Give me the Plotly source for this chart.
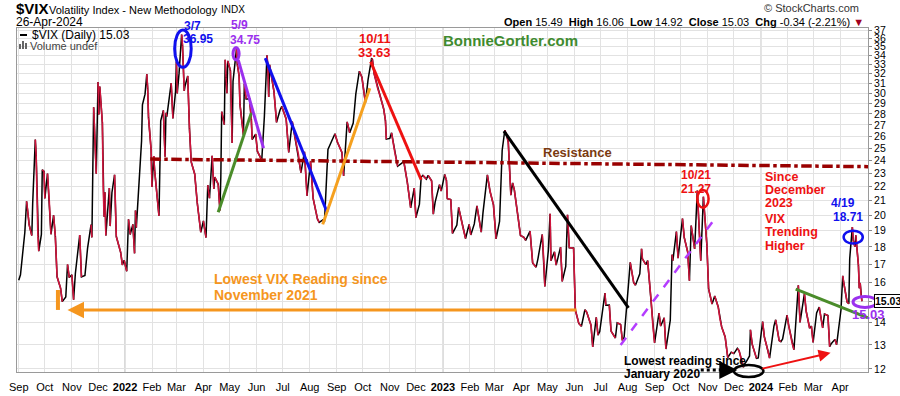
import math
import pandas as pd
import plotly.graph_objects as go

# ---------------- data ----------------
dates = [
"2021-09-01","2021-09-03","2021-09-08","2021-09-10","2021-09-13","2021-09-16","2021-09-17","2021-09-20","2021-09-21","2021-09-23",
"2021-09-24","2021-09-27","2021-09-28","2021-09-30","2021-10-01","2021-10-04","2021-10-06","2021-10-08","2021-10-11","2021-10-13",
"2021-10-15","2021-10-19","2021-10-21","2021-10-25","2021-10-27","2021-10-29","2021-11-01","2021-11-03","2021-11-05","2021-11-10",
"2021-11-12","2021-11-16","2021-11-19","2021-11-23","2021-11-24","2021-11-26","2021-11-29","2021-11-30","2021-12-01","2021-12-02",
"2021-12-03","2021-12-06","2021-12-07","2021-12-08","2021-12-09","2021-12-10","2021-12-14","2021-12-15","2021-12-17","2021-12-20",
"2021-12-22","2021-12-27","2021-12-29","2021-12-31","2022-01-03","2022-01-05","2022-01-07","2022-01-10","2022-01-12","2022-01-13",
"2022-01-14","2022-01-18","2022-01-20","2022-01-21","2022-01-24","2022-01-26","2022-01-27","2022-01-28","2022-01-31","2022-02-01",
"2022-02-03","2022-02-04","2022-02-09","2022-02-11","2022-02-14","2022-02-16","2022-02-17","2022-02-18","2022-02-23","2022-02-25",
"2022-02-28","2022-03-01","2022-03-02","2022-03-04","2022-03-07","2022-03-08","2022-03-10","2022-03-11","2022-03-14","2022-03-16",
"2022-03-18","2022-03-22","2022-03-25","2022-03-29","2022-04-01","2022-04-04","2022-04-06","2022-04-08","2022-04-11","2022-04-13",
"2022-04-14","2022-04-18","2022-04-20","2022-04-21","2022-04-22","2022-04-25","2022-04-26","2022-04-27","2022-04-28","2022-04-29",
"2022-05-02","2022-05-04","2022-05-05","2022-05-09","2022-05-10","2022-05-12","2022-05-13","2022-05-17","2022-05-18","2022-05-20",
"2022-05-24","2022-05-26","2022-05-27","2022-05-31","2022-06-02","2022-06-07","2022-06-09","2022-06-10","2022-06-13","2022-06-14",
"2022-06-15","2022-06-16","2022-06-21","2022-06-24","2022-06-28","2022-06-30","2022-07-05","2022-07-08","2022-07-12","2022-07-14",
"2022-07-19","2022-07-22","2022-07-26","2022-07-29","2022-08-02","2022-08-05","2022-08-10","2022-08-12","2022-08-16","2022-08-18",
"2022-08-22","2022-08-26","2022-08-30","2022-09-02","2022-09-07","2022-09-09","2022-09-13","2022-09-16","2022-09-20","2022-09-23",
"2022-09-27","2022-09-29","2022-09-30","2022-10-04","2022-10-06","2022-10-07","2022-10-11","2022-10-12","2022-10-14","2022-10-18",
"2022-10-21","2022-10-25","2022-10-27","2022-10-28","2022-11-01","2022-11-03","2022-11-07","2022-11-10","2022-11-14","2022-11-17",
"2022-11-21","2022-11-25","2022-11-29","2022-12-01","2022-12-05","2022-12-07","2022-12-09","2022-12-13","2022-12-15","2022-12-19",
"2022-12-21","2022-12-23","2022-12-28","2022-12-30","2023-01-03","2023-01-05","2023-01-06","2023-01-10","2023-01-12","2023-01-17",
"2023-01-19","2023-01-24","2023-01-27","2023-01-31","2023-02-02","2023-02-06","2023-02-09","2023-02-14","2023-02-16","2023-02-21",
"2023-02-24","2023-02-28","2023-03-03","2023-03-07","2023-03-09","2023-03-10","2023-03-13","2023-03-15","2023-03-17","2023-03-20",
"2023-03-22","2023-03-24","2023-03-28","2023-03-31","2023-04-04","2023-04-06","2023-04-11","2023-04-14","2023-04-18","2023-04-20",
"2023-04-25","2023-04-27","2023-04-28","2023-05-02","2023-05-04","2023-05-05","2023-05-09","2023-05-11","2023-05-16","2023-05-18",
"2023-05-22","2023-05-24","2023-05-26","2023-05-31","2023-06-02","2023-06-06","2023-06-09","2023-06-13","2023-06-15","2023-06-20",
"2023-06-22","2023-06-26","2023-06-28","2023-06-30","2023-07-06","2023-07-07","2023-07-11","2023-07-13","2023-07-18","2023-07-20",
"2023-07-24","2023-07-26","2023-07-28","2023-08-02","2023-08-04","2023-08-08","2023-08-10","2023-08-15","2023-08-17","2023-08-18",
"2023-08-22","2023-08-24","2023-08-28","2023-08-30","2023-09-01","2023-09-06","2023-09-08","2023-09-12","2023-09-14","2023-09-19",
"2023-09-21","2023-09-22","2023-09-26","2023-09-28","2023-10-03","2023-10-05","2023-10-09","2023-10-11","2023-10-13","2023-10-17",
"2023-10-19","2023-10-20","2023-10-24","2023-10-26","2023-10-27","2023-10-31","2023-11-02","2023-11-06","2023-11-09","2023-11-13",
"2023-11-15","2023-11-17","2023-11-21","2023-11-24","2023-11-28","2023-12-01","2023-12-05","2023-12-07","2023-12-12","2023-12-13",
"2023-12-15","2023-12-19","2023-12-20","2023-12-22","2023-12-27","2023-12-29","2024-01-03","2024-01-05","2024-01-09","2024-01-11",
"2024-01-16","2024-01-18","2024-01-22","2024-01-24","2024-01-26","2024-01-31","2024-02-02","2024-02-06","2024-02-08","2024-02-13",
"2024-02-15","2024-02-20","2024-02-22","2024-02-26","2024-02-28","2024-03-01","2024-03-05","2024-03-08","2024-03-12","2024-03-14",
"2024-03-18","2024-03-20","2024-03-22","2024-03-26","2024-03-28","2024-04-02","2024-04-04","2024-04-05","2024-04-09","2024-04-11",
"2024-04-12","2024-04-15","2024-04-16","2024-04-18","2024-04-19","2024-04-22","2024-04-23","2024-04-24","2024-04-25","2024-04-26",
]
vix = [
16.11,16.41,18.90,20.95,19.37,18.69,20.81,25.71,24.36,18.63,
17.75,18.76,23.25,23.14,21.15,22.96,21.00,18.77,20.00,18.64,
16.30,15.70,15.01,15.24,16.98,16.26,16.41,15.10,16.48,18.73,
16.29,16.37,17.91,19.38,18.58,28.62,22.96,27.19,31.12,27.95,
30.67,27.18,21.89,19.90,21.58,18.69,21.89,19.29,21.57,22.87,
18.63,17.68,16.95,17.22,16.60,19.73,18.76,19.40,17.62,20.31,
19.19,22.79,25.59,28.85,29.90,31.96,30.49,27.66,24.83,21.96,
24.35,23.22,19.96,27.36,28.33,24.29,28.11,27.75,31.02,27.59,
30.15,33.32,29.98,31.98,36.45,35.13,30.23,30.75,31.77,26.67,
23.87,22.94,20.81,18.90,19.63,18.57,22.10,21.16,24.37,21.82,
22.70,22.17,20.32,22.68,28.21,27.02,33.52,31.60,29.99,33.40,
32.34,25.42,31.20,34.75,32.99,31.77,28.87,26.10,30.96,29.43,
29.45,27.50,25.72,26.19,24.72,24.02,26.09,27.75,34.02,32.69,
29.62,32.95,30.19,27.23,28.36,28.71,27.54,24.64,27.29,26.40,
24.50,23.03,24.69,21.33,23.93,21.15,19.74,19.53,19.69,19.56,
24.89,25.56,26.21,25.47,24.64,22.79,27.27,26.30,27.16,29.92,
32.27,31.84,31.62,29.07,30.52,31.36,33.63,33.57,32.02,30.50,
29.69,28.46,27.39,25.75,25.81,26.30,24.55,23.53,23.73,23.93,
22.36,20.50,21.89,19.84,20.75,22.68,22.83,22.55,22.83,22.42,
20.07,20.87,22.14,21.67,22.90,22.46,21.13,21.07,18.83,19.36,
20.52,19.20,18.51,19.40,18.73,19.43,20.63,18.91,20.17,22.87,
21.67,20.70,18.49,19.59,22.61,24.80,26.52,26.14,25.51,21.38,
22.26,21.74,19.97,18.70,18.58,18.40,18.97,17.07,16.83,17.29,
18.76,17.03,15.78,17.78,20.09,17.19,17.71,16.94,17.99,16.05,
16.87,20.03,17.95,17.94,14.60,13.96,13.83,14.61,14.50,13.88,
12.91,14.25,13.43,13.59,15.44,14.83,14.84,13.61,13.30,13.99,
13.91,13.19,13.33,15.88,17.10,15.99,15.85,16.46,17.89,17.30,
16.97,17.20,15.08,13.88,13.09,14.45,13.84,14.23,12.82,14.11,
17.54,17.20,18.94,17.34,19.78,18.58,17.70,16.09,19.32,17.88,
21.40,21.71,17.20,20.19,21.27,18.14,15.66,14.89,15.29,14.76,
14.18,13.80,13.35,12.46,12.69,12.63,12.85,12.75,12.07,12.19,
12.28,12.53,13.67,13.03,12.43,12.45,14.04,13.35,12.76,12.44,
13.84,14.13,13.19,13.14,13.26,14.35,13.85,13.06,12.79,15.85,
14.01,15.42,14.54,13.74,13.84,13.11,14.46,14.74,13.75,14.40,
14.33,12.92,13.06,13.24,13.01,14.61,16.35,16.03,14.98,14.91,
17.31,19.23,18.40,18.00,18.71,16.94,15.69,15.97,15.37,15.03,
]
month_starts = pd.date_range("2021-09-01", "2024-04-01", freq="MS")
month_labels = ["<b>%d</b>" % d.year if d.month == 1 else d.strftime("%b") for d in month_starts]
y_ticks = list(range(12, 38))
header_right = "<b>Open</b> 15.49  <b>High</b> 16.06  <b>Low</b> 14.92  <b>Close</b> 15.03  <b>Chg</b> -0.34 (-2.21%) <span style='color:#a00020'>▼</span>"

FONT = "Liberation Sans, Arial, sans-serif"
BLACK = "#000000"
CRIMSON = "#d0143c"
BLUE = "#1010ee"
PURPLE = "#9b30ee"
RED = "#ee1111"
GREEN = "#4a8c2a"
ORANGE = "#f5961e"
L = math.log10
PW, PH, PL, PB = 851, 344, 17, 372   # plot area width/height/left/bottom in px


def px_x(xpx):
    return (xpx - PL) / PW


def px_y(ypx):
    return (PB - ypx) / PH


fig = go.Figure()

# price line: whole line black, falling segments crimson on top
fig.add_trace(go.Scatter(x=dates, y=vix, mode="lines", line=dict(color=BLACK, width=1.5), hoverinfo="skip"))
dn_x, dn_y = [], []
for i in range(len(vix) - 1):
    if vix[i + 1] < vix[i]:
        dn_x += [dates[i], dates[i + 1], None]
        dn_y += [vix[i], vix[i + 1], None]
fig.add_trace(go.Scatter(x=dn_x, y=dn_y, mode="lines", line=dict(color=CRIMSON, width=1.6), hoverinfo="skip"))


# trend lines (data coordinates)
def seg(x, y, color, width=3, dash="solid"):
    fig.add_trace(go.Scatter(x=x, y=y, mode="lines", line=dict(color=color, width=width, dash=dash), hoverinfo="skip"))


seg(["2022-01-30", "2024-05-03"], [24.1, 23.5], "#990000", 3.5, "dashdot")
seg(["2022-04-18", "2022-05-26"], [20.2, 28.1], GREEN)
seg(["2022-05-11", "2022-06-09"], [33.5, 25.0], PURPLE)
seg(["2022-06-11", "2022-08-21"], [33.7, 20.2], BLUE)
seg(["2022-08-16", "2022-10-09"], [19.4, 30.5], "#f5a01e")
seg(["2022-10-10", "2022-12-07"], [33.3, 22.5], RED)
seg(["2023-03-12", "2023-08-02"], [26.45, 14.7], BLACK)
seg(["2023-07-24", "2023-11-07"], [13.0, 19.6], "#b43cff", 2.5, "dash")
seg(["2024-02-10", "2024-05-03"], [15.64, 14.22], GREEN)
seg(["2021-10-16", "2021-10-16"], [15.6, 14.6], ORANGE, 4)
seg(["2023-10-24", "2023-11-24"], [11.96, 11.96], BLACK, 3, "dot")

shapes = []


def ell(x0, x1, y0, y1, color, w=2.5, xref="x", yref="y"):
    shapes.append(dict(type="circle", xref=xref, yref=yref, x0=x0, x1=x1, y0=y0, y1=y1,
                       line=dict(color=color, width=w), layer="above"))


ell("2022-02-27", "2022-03-18", 32.7, 37.0, BLUE, 3)
ell("2022-05-05", "2022-05-12", 33.5, 34.9, PURPLE, 3)
ell("2023-10-20", "2023-11-02", 20.5, 21.75, RED, 2.5)
ell("2024-04-05", "2024-04-27", 18.2, 19.0, BLUE, 2.5)
ell(px_x(853), px_x(877), 14.72, 15.27, PURPLE, 3, xref="paper")
ell("2023-12-01", "2024-01-04", px_y(377), px_y(365), BLACK, 2.5, yref="paper")

# year separators darker
for yr in ["2022-01-01", "2023-01-01", "2024-01-01"]:
    shapes.append(dict(type="line", xref="x", yref="paper", x0=yr, x1=yr, y0=0, y1=1,
                       line=dict(color="#b4b4b4", width=1), layer="below"))

# legend marks
shapes.append(dict(type="line", xref="paper", yref="paper", x0=px_x(20), x1=px_x(27),
                   y0=px_y(35), y1=px_y(35), line=dict(color=BLACK, width=2)))
for bx0, bx1, by0 in [(19, 21, 44), (22, 24, 41), (25, 27, 43)]:
    shapes.append(dict(type="rect", xref="paper", yref="paper", x0=px_x(bx0), x1=px_x(bx1),
                       y0=px_y(49), y1=px_y(by0), fillcolor="#666", line=dict(width=0)))

ann = []


def txt(x, y, s, color, size=12, bold=True, xanchor="center", xref="x", yref="y", yanchor="middle"):
    ann.append(dict(x=x, y=y, xref=xref, yref=yref, text=("<b>%s</b>" % s) if bold else s, showarrow=False,
                    font=dict(family=FONT, size=size, color=color), xanchor=xanchor, yanchor=yanchor))


txt("2022-03-19", px_y(26), "3/7", BLUE, yref="paper")
txt("2022-03-26", L(35.95), "36.95", BLUE)
txt("2022-05-12", px_y(25), "5/9", PURPLE, yref="paper")
txt("2022-05-19", L(35.8), "34.75", PURPLE)
txt("2022-10-15", L(36.0), "10/11", RED, 13)
txt("2022-10-15", L(34.3), "33.63", RED, 13)
txt("2023-03-20", L(35.7), "BonnieGortler.com", "#3f8b2f", 15)
txt("2023-06-05", L(24.67), "Resistance", "#7a3a10", 13)
txt("2022-04-11", L(16.19), "Lowest VIX Reading since", ORANGE, 14, xanchor="left")
txt("2022-04-11", L(15.35), "November 2021", ORANGE, 14, xanchor="left")
txt("2023-10-19", L(22.86), "10/21", RED)
txt("2023-10-19", L(21.82), "21.27", RED)
for s, v in [("Since", 22.71), ("December", 21.75), ("2023", 20.83), ("VIX", 19.75), ("Trending", 18.92), ("Higher", 18.06)]:
    txt("2024-01-04", L(v), s, RED, 12.5, xanchor="left")
txt("2024-04-04", L(20.83), "4/19", BLUE)
txt("2024-04-10", L(19.89), "18.71", BLUE)
txt(1.0, L(14.36), "15.03", PURPLE, 13, xref="paper")
txt("2023-07-26", px_y(361), "Lowest reading since", BLACK, 12, xanchor="left", yref="paper")
txt("2023-07-26", px_y(374), "January 2020", BLACK, 12, xanchor="left", yref="paper")

# arrows
ann.append(dict(x="2021-10-27", y=L(14.6), ax="2023-06-05", ay=L(14.6), xref="x", yref="y", axref="x", ayref="y",
                text="", showarrow=True, arrowhead=2, arrowsize=1.1, arrowwidth=3, arrowcolor=ORANGE))
ann.append(dict(x="2024-03-21", y=L(12.66), ax="2024-01-01", ay=L(12.0), xref="x", yref="y", axref="x", ayref="y",
                text="", showarrow=True, arrowhead=2, arrowsize=1.2, arrowwidth=2, arrowcolor=RED))
ann.append(dict(x="2023-12-05", y=L(11.96), ax="2023-11-22", ay=L(11.96), xref="x", yref="y", axref="x", ayref="y",
                text="", showarrow=True, arrowhead=2, arrowsize=1.2, arrowwidth=3, arrowcolor=BLACK))

# last price box on axis
ann.append(dict(x=1.0, y=L(15.03), xref="paper", yref="y", text="<b>15.03</b>", showarrow=False, xanchor="left",
                xshift=6, font=dict(family=FONT, size=10.5, color=BLACK), bgcolor="white", bordercolor=BLACK,
                borderwidth=1, borderpad=0))


# header
def hdr(xpx, ypx, s, size, color="#000", xanchor="left"):
    ann.append(dict(x=px_x(xpx), y=px_y(ypx), xref="paper", yref="paper", text=s, showarrow=False,
                    xanchor=xanchor, yanchor="middle", font=dict(family=FONT, size=size, color=color)))


hdr(14, 9, "<b>$VIX</b>", 15)
hdr(47, 10, "Volatility Index - New Methodology", 11)
hdr(219, 10, "INDX", 10)
hdr(14, 22, "26-Apr-2024", 12)
hdr(861, 8, "© StockCharts.com", 11, "#333", "right")
hdr(866, 22, header_right, 11, "#000", "right")
hdr(30, 35, "$VIX (Daily) 15.03", 12)
hdr(28, 46, "Volume undef", 11, "#444")

fig.update_layout(
    template="none",
    width=900, height=396, margin=dict(l=PL, r=900 - PL - PW, t=PB - PH, b=396 - PB, autoexpand=False),
    paper_bgcolor="white", plot_bgcolor="white", showlegend=False,
    font=dict(family=FONT, size=11, color="#000"),
    shapes=shapes, annotations=ann,
    xaxis=dict(type="date", range=["2021-08-30", "2024-05-03"], tickvals=list(month_starts), ticktext=month_labels,
               showgrid=True, gridcolor="#e2e2e2", gridwidth=1, showline=True, linecolor="#9a9a9a", mirror=True,
               ticks="outside", ticklen=5, tickcolor="rgba(0,0,0,0)", tickfont=dict(size=11), zeroline=False,
               automargin=False),
    yaxis=dict(type="log", side="right", range=[L(11.88), L(37.25)], tickvals=y_ticks,
               ticktext=[str(v) for v in y_ticks], showgrid=True, gridcolor="#e2e2e2", gridwidth=1,
               showline=True, linecolor="#9a9a9a", mirror=True, ticks="outside", ticklen=3, tickcolor="#888",
               tickfont=dict(size=10.5), zeroline=False, automargin=False),
)

fig.write_html("out.html", config={"displayModeBar": False},
               post_script="document.body.style.margin='0';document.body.style.overflow='hidden';")
